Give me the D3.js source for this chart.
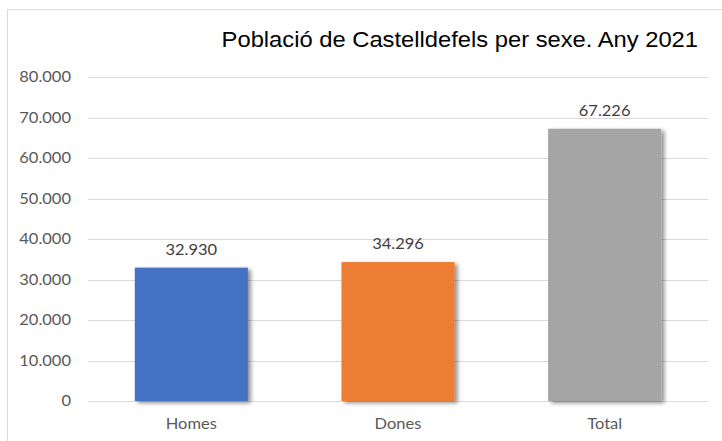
<!DOCTYPE html>
<html><head><meta charset="utf-8">
<script src="https://cdn.jsdelivr.net/npm/d3@7"></script>
<style>body{margin:0;background:#fff}svg{display:block}</style>
</head><body>
<script>
const categories = ["Homes", "Dones", "Total"];
const values = [32930, 34296, 67226];
const colors = ["#4472C4", "#ED7D31", "#A5A5A5"];
const tickValues = [0, 10000, 20000, 30000, 40000, 50000, 60000, 70000, 80000];
const title = "Població de Castelldefels per sexe. Any 2021";

const W = 722, H = 441;
const fmt = v => d3.format(",")(v).replace(/,/g, ".");
const svg = d3.select("body").append("svg").attr("width", W).attr("height", H);
const FONT = "Lato, 'Open Sans', sans-serif";

// horizontal stretch to mimic the reference's text proportions
function stretch(sel, s) {
  sel.each(function () {
    const t = d3.select(this);
    const x0 = +(t.attr("x") || 0);
    t.attr("transform", `translate(${x0},0) scale(${s},1) translate(${-x0},0)`);
  });
}

const defs = svg.append("defs");
const f = defs.append("filter").attr("id", "sh").attr("x", "-10%").attr("y", "-10%").attr("width", "130%").attr("height", "130%");
f.append("feGaussianBlur").attr("in", "SourceAlpha").attr("stdDeviation", 2.2).attr("result", "b");
f.append("feOffset").attr("in", "b").attr("dx", 3).attr("dy", 2).attr("result", "o");
f.append("feComponentTransfer").attr("in", "o").attr("result", "o2").append("feFuncA").attr("type", "linear").attr("slope", 0.45);
const m = f.append("feMerge");
m.append("feMergeNode").attr("in", "o2");
m.append("feMergeNode").attr("in", "SourceGraphic");

// frame
svg.append("path").attr("d", `M7.5,${H} V9.5 H${W}`).attr("fill", "none").attr("stroke", "#d9d9d9").attr("stroke-width", 1);

const x = d3.scaleBand().domain(categories).range([88, 708]).paddingInner(0.453).paddingOuter(0.2265);
const y = d3.scaleLinear().domain([0, 80000]).range([401, 77]);

// grid
svg.append("g").selectAll("line").data(tickValues).join("line")
  .attr("x1", 88).attr("x2", 708)
  .attr("y1", d => Math.round(y(d)) + 0.5).attr("y2", d => Math.round(y(d)) + 0.5)
  .attr("stroke", "#d9d9d9").attr("stroke-width", 1);

// y axis labels
const yAxis = d3.axisLeft(y).tickValues(tickValues).tickFormat(fmt).tickSize(0).tickPadding(0);
const gy = svg.append("g").attr("transform", "translate(71,0)").call(yAxis);
gy.select(".domain").remove();
gy.selectAll("text").attr("font-family", FONT).attr("font-size", 15).attr("fill", "#595959");
stretch(gy.selectAll("text"), 1.1);

// bars
svg.append("g").selectAll("rect").data(categories).join("rect")
  .attr("x", d => x(d)).attr("width", x.bandwidth())
  .attr("y", (d, i) => y(values[i])).attr("height", (d, i) => y(0) - y(values[i]))
  .attr("fill", (d, i) => colors[i]).attr("filter", "url(#sh)");

// value labels
const vl = svg.append("g").selectAll("text").data(categories).join("text")
  .attr("x", d => x(d) + x.bandwidth() / 2)
  .attr("y", (d, i) => y(values[i]) - 13)
  .attr("text-anchor", "middle")
  .attr("font-family", FONT).attr("font-size", 15).attr("fill", "#404040")
  .text((d, i) => fmt(values[i]));
stretch(vl, 1.1);

// x axis labels
const xAxis = d3.axisBottom(x).tickSize(0).tickPadding(0);
const gx = svg.append("g").attr("transform", "translate(0,418)").call(xAxis);
gx.select(".domain").remove();
gx.selectAll("text").attr("font-family", FONT).attr("font-size", 15).attr("fill", "#595959");
stretch(gx.selectAll("text"), 1.1);

// title
const tt = svg.append("text").attr("x", 698).attr("y", 47).attr("text-anchor", "end")
  .attr("font-family", "'Liberation Sans', Arial, sans-serif").attr("font-size", 22).attr("fill", "#000")
  .text(title);
stretch(tt, 1.08);
</script>
</body></html>
